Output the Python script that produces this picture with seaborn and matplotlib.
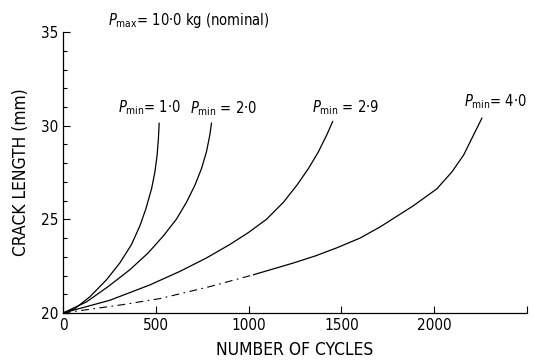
import numpy as np
import matplotlib
matplotlib.use("Agg")
import matplotlib.pyplot as plt
import pandas as pd
import seaborn as sns

# crack length (mm) vs number of cycles
cycles_p1 = [0, 63, 144, 234, 306, 369, 414, 446, 477, 495, 507, 514, 518]
crack_p1 = [20.0, 20.23, 20.86, 21.77, 22.67, 23.66, 24.65, 25.55, 26.63, 27.53, 28.43, 29.33, 30.14]

cycles_p2 = [0, 126, 243, 360, 459, 540, 611, 665, 710, 746, 773, 791, 800]
crack_p2 = [20.0, 20.59, 21.41, 22.31, 23.21, 24.11, 25.01, 25.91, 26.81, 27.71, 28.61, 29.51, 30.14]

cycles_p3 = [0, 252, 468, 629, 773, 899, 998, 1097, 1187, 1259, 1322, 1376, 1421, 1453]
crack_p3 = [20.0, 20.68, 21.5, 22.22, 22.94, 23.66, 24.29, 25.01, 25.91, 26.81, 27.71, 28.61, 29.51, 30.23]

cycles_p4 = [0, 324, 522, 791, 1025, 1241, 1360, 1475, 1600, 1709, 1888, 2014, 2095, 2158, 2212, 2257]
crack_p4 = [20.0, 20.45, 20.77, 21.41, 22.04, 22.67, 23.05, 23.48, 24.0, 24.6, 25.73, 26.63, 27.53, 28.43, 29.51, 30.41]

labels = [r"$P_{\mathrm{min}}$= 1·0", r"$P_{\mathrm{min}}$ = 2·0",
          r"$P_{\mathrm{min}}$ = 2·9", r"$P_{\mathrm{min}}$= 4·0"]
label_x = [296, 683, 1344, 2161]
label_y = [30.45, 30.4, 30.45, 30.8]

x_ticks = [0, 500, 1000, 1500, 2000, 2500]
x_ticklabels = ["0", "500", "1000", "1500", "2000", ""]
y_ticks = [20, 25, 30, 35]

sns.set_style("ticks")
plt.rcParams['font.family'] = ['DejaVu Sans']
plt.rcParams['font.stretch'] = 'condensed'
plt.rcParams['mathtext.fontset'] = 'dejavusans'
plt.rcParams['text.color'] = 'black'
plt.rcParams['axes.labelcolor'] = 'black'
plt.rcParams['xtick.color'] = 'black'
plt.rcParams['ytick.color'] = 'black'
plt.rcParams['axes.edgecolor'] = 'black'

fig = plt.figure(figsize=(5.34, 3.63), dpi=100)
ax = fig.add_axes([0.118, 0.1377, 0.869, 0.774])

for xs, ys in [(cycles_p1, crack_p1), (cycles_p2, crack_p2), (cycles_p3, crack_p3)]:
    df = pd.DataFrame({'cycles': xs, 'crack': ys})
    sns.lineplot(data=df, x='cycles', y='crack', sort=False, color='black', lw=0.9, ax=ax)

# 4th curve is broken / dash-dot in its lower part
df4 = pd.DataFrame({'cycles': cycles_p4, 'crack': crack_p4})
low = df4[df4['cycles'] <= 1025]
high = df4[df4['cycles'] >= 1025]
ax.plot(low['cycles'], low['crack'], color='black', lw=0.8, ls=(0, (7, 4, 1.5, 4)))
sns.lineplot(data=high, x='cycles', y='crack', sort=False, color='black', lw=0.9, ax=ax)

for lab, lx, ly in zip(labels, label_x, label_y):
    ax.text(lx, ly, lab, fontsize=10.5, ha='left', va='bottom')

ax.text(242, 35.1, r"$P_{\mathrm{max}}$= 10·0 kg (nominal)", fontsize=10.5,
        ha='left', va='bottom', clip_on=False)

ax.set_xlim(0, 2500)
ax.set_ylim(20, 35)
ax.set_xticks(x_ticks)
ax.set_xticklabels(x_ticklabels)
ax.set_yticks(y_ticks)
ax.set_yticks(np.arange(20, 36, 1), minor=True)
ax.tick_params(axis='both', which='major', direction='in', length=5, width=0.8, labelsize=11)
ax.tick_params(axis='y', which='minor', direction='in', length=3, width=0.8)
ax.set_xlabel("NUMBER OF CYCLES", fontsize=12.5, labelpad=6)
ax.set_ylabel("CRACK LENGTH (mm)", fontsize=12.5, labelpad=8)
sns.despine(ax=ax)
for s in ['left', 'bottom']:
    ax.spines[s].set_linewidth(0.9)

fig.savefig("out.png", dpi=100)
